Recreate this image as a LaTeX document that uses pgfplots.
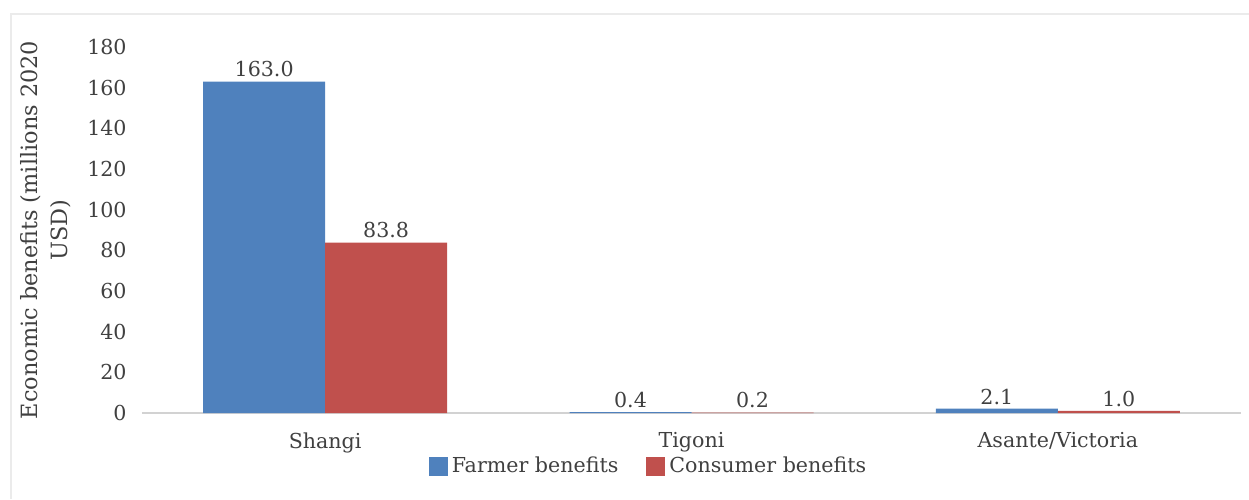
\documentclass[border=0pt]{standalone}
\usepackage{pgfplots}
\usepackage{pgfplotstable}
\pgfplotsset{compat=1.18}
\usepackage{fontspec}
\setmainfont{DejaVu Serif}
\definecolor{barblue}{HTML}{4F81BD}
\definecolor{barred}{HTML}{C0504D}
\definecolor{txt}{HTML}{404040}
\definecolor{frame}{HTML}{EBEBEB}
\pgfplotstableread{
x farmer consumer
0 163.0 83.8
1 0.4 0.2
2 2.1 1.0
}\datatable
\begin{document}
\begin{tikzpicture}[font=\fontsize{10.3}{12.5}\selectfont,text=txt]
\useasboundingbox (0pt,0pt) rectangle (624.5pt,249.5pt);
\draw[frame,line width=1.2pt] (5.5pt,0pt) -- (5.5pt,242.5pt) -- (624.5pt,242.5pt);
\begin{axis}[
  at={(71pt,43pt)}, anchor=south west,
  scale only axis,
  width=549.5pt, height=183pt,
  xmin=-0.5, xmax=2.5,
  ymin=0, ymax=180,
  ytick={0,20,...,180},
  xtick={0,1,2},
  xticklabels={Shangi,Tigoni,Asante/Victoria},
  major tick length=0pt,
  axis line style={draw=none},
  ybar=0pt, bar width=61pt,
  /pgf/number format/assume math mode=true,
  yticklabel style={anchor=east, inner sep=0pt, xshift=-7.5pt, text=txt},
  xticklabel style={anchor=north, inner sep=0pt, yshift=-9.5pt, text=txt},
  every axis y label/.style={at={(axis description cs:0,0.5)}, xshift=-48pt, rotate=90, anchor=center, align=center, text=txt, font=\fontsize{11.2}{15}\selectfont},
  ylabel={Economic benefits (millions 2020\\USD)},
  extra y ticks={0}, extra y tick labels={},
  extra y tick style={grid=major, grid style={gray!35, line width=0.8pt}},
  nodes near coords,
  nodes near coords style={/pgf/number format/.cd, fixed, fixed zerofill, precision=1, assume math mode=true, /tikz/.cd, text=txt, anchor=south, inner sep=2pt},
  legend style={at={(axis description cs:0.4618,-0.145)}, anchor=center, legend columns=2, draw=none, fill=none, inner sep=0pt, column sep=0pt,
    /tikz/every even column/.append style={column sep=12pt}, text=txt},
  legend cell align=left,
  legend image code/.code={\fill[#1] (0pt,-4.75pt) rectangle (9.5pt,4.75pt);},
]
\addplot[fill=barblue, draw=none] table[x=x, y=farmer] {\datatable};
\addplot[fill=barred, draw=none] table[x=x, y=consumer] {\datatable};
\legend{Farmer benefits, Consumer benefits}
\end{axis}
\end{tikzpicture}
\end{document}
